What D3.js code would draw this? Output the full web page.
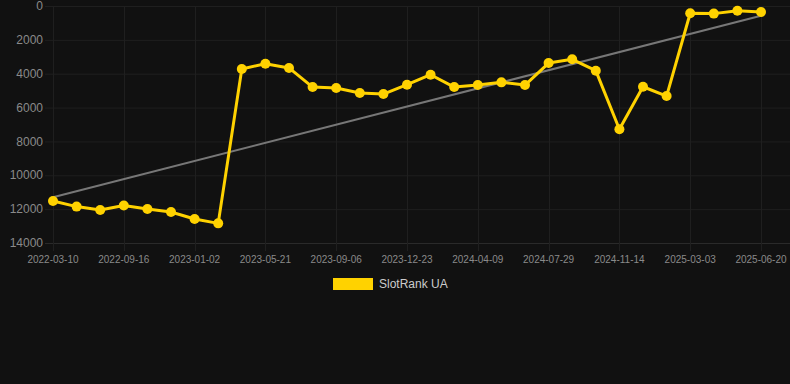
<!DOCTYPE html>
<html>
<head>
<meta charset="utf-8">
<script src="https://cdn.jsdelivr.net/npm/d3@7"></script>
<style>
  html, body { margin: 0; padding: 0; background: #111111; }
  svg { display: block; font-family: "Liberation Sans", Arial, sans-serif; }
</style>
</head>
<body>
<div id="chart"></div>
<script>
// one label every third point on the category axis
const tickLabels = [
  '2022-03-10', '2022-09-16', '2023-01-02', '2023-05-21', '2023-09-06',
  '2023-12-23', '2024-04-09', '2024-07-29', '2024-11-14', '2025-03-03', '2025-06-20'
];

const ranks = [
  11520, 11850, 12050, 11780, 11990, 12170, 12580, 12840,
  3720, 3410, 3660, 4790, 4840, 5140, 5200, 4650, 4060, 4790,
  4670, 4510, 4670, 3370, 3150, 3820, 7280, 4770, 5320,
  430, 450, 280, 350
];

const yTicks = [0, 2000, 4000, 6000, 8000, 10000, 12000, 14000];
const seriesName = 'SlotRank UA';

const width = 790, height = 384;
const plotLeft = 53, plotRight = 761, plotTop = 6, plotBottom = 243;

const svg = d3.select('#chart').append('svg')
  .attr('width', width)
  .attr('height', height);

const idx = d3.range(ranks.length);
const x = d3.scalePoint().domain(idx).range([plotLeft, plotRight]);
const y = d3.scaleLinear().domain([0, 14000]).range([plotTop, plotBottom]);

// grid
svg.append('g').selectAll('line')
  .data(yTicks)
  .join('line')
  .attr('x1', plotLeft - 8).attr('x2', width)
  .attr('y1', d => y(d) + 0.5).attr('y2', d => y(d) + 0.5)
  .attr('stroke', d => d === 14000 ? '#2a2a2a' : '#1f1f1f')
  .attr('stroke-width', 1);

const xTickIdx = tickLabels.map((_, i) => i * 3);
svg.append('g').selectAll('line')
  .data(xTickIdx)
  .join('line')
  .attr('x1', d => Math.round(x(d)) + 0.5).attr('x2', d => Math.round(x(d)) + 0.5)
  .attr('y1', plotTop).attr('y2', plotBottom + 8)
  .attr('stroke', '#1f1f1f')
  .attr('stroke-width', 1);

// y labels
svg.append('g').selectAll('text')
  .data(yTicks)
  .join('text')
  .attr('x', 43)
  .attr('y', d => y(d))
  .attr('dy', '0.35em')
  .attr('text-anchor', 'end')
  .attr('fill', '#8a8a8a')
  .attr('font-size', 12)
  .text(d => d);

// x labels
svg.append('g').selectAll('text')
  .data(xTickIdx)
  .join('text')
  .attr('x', d => x(d))
  .attr('y', 259)
  .attr('dy', '0.35em')
  .attr('text-anchor', 'middle')
  .attr('fill', '#8a8a8a')
  .attr('font-size', 10)
  .text((d, i) => tickLabels[i]);

// linear trend
const n = ranks.length;
const mx = d3.mean(idx), my = d3.mean(ranks);
const slope = d3.sum(idx, i => (i - mx) * (ranks[i] - my)) / d3.sum(idx, i => (i - mx) ** 2);
const fit = i => my + slope * (i - mx);
svg.append('line')
  .attr('x1', x(0)).attr('y1', y(fit(0)))
  .attr('x2', x(n - 1)).attr('y2', y(fit(n - 1)))
  .attr('stroke', '#777777')
  .attr('stroke-width', 2);

// series
const line = d3.line().x((d, i) => x(i)).y(d => y(d));
svg.append('path')
  .datum(ranks)
  .attr('d', line)
  .attr('fill', 'none')
  .attr('stroke', '#ffd200')
  .attr('stroke-width', 3)
  .attr('stroke-linejoin', 'round');

svg.append('g').selectAll('circle')
  .data(ranks)
  .join('circle')
  .attr('cx', (d, i) => x(i))
  .attr('cy', d => y(d))
  .attr('r', 5)
  .attr('fill', '#ffd200');

// legend
const legend = svg.append('g');
legend.append('rect')
  .attr('x', 333).attr('y', 278)
  .attr('width', 40).attr('height', 12)
  .attr('fill', '#ffd200');
legend.append('text')
  .attr('x', 379).attr('y', 284)
  .attr('dy', '0.35em')
  .attr('fill', '#cccccc')
  .attr('font-size', 12)
  .text(seriesName);
</script>
</body>
</html>
